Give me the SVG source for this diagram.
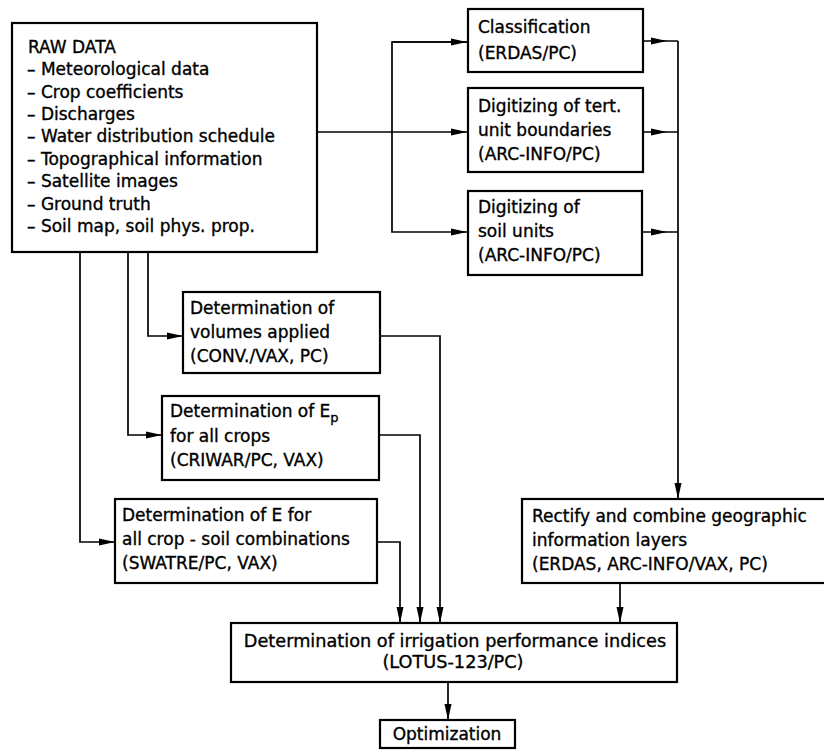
<svg xmlns="http://www.w3.org/2000/svg" width="824" height="750" viewBox="0 0 824 750">
<style>
  .box { fill: #fff; stroke: #000; stroke-width: 2.2; }
  .t { font-family: "DejaVu Sans", "Liberation Sans", sans-serif; font-size: 17px; fill: #000; stroke: #000; stroke-width: 0.35; }
  .c { text-anchor: middle; }
  .big { font-size: 17.7px; }
  .ln { fill: none; stroke: #000; stroke-width: 1.7; }
</style>
<defs>
  <marker id="ah" viewBox="0 0 16 9" refX="16" refY="4.5" markerWidth="16" markerHeight="9" markerUnits="userSpaceOnUse" orient="auto">
    <path d="M0,1 L16,4.5 L0,8 Z" fill="#000"/>
  </marker>
</defs>
<rect width="824" height="750" fill="#fff"/>

<g id="connectors">
  <!-- RAW DATA to right boxes -->
  <path class="ln" d="M317,132 H467" marker-end="url(#ah)"/>
  <path class="ln" d="M467,42 H392 V232 H467" marker-end="url(#ah)"/>
  <path class="ln" d="M392,42 H467" marker-end="url(#ah)"/>
  <!-- RAW DATA down to left boxes -->
  <path class="ln" d="M148,252 V336 H183" marker-end="url(#ah)"/>
  <path class="ln" d="M128,252 V435 H162" marker-end="url(#ah)"/>
  <path class="ln" d="M80,252 V542 H115" marker-end="url(#ah)"/>
  <!-- left boxes to irrigation -->
  <path class="ln" d="M380,336 H440 V623" marker-end="url(#ah)"/>
  <path class="ln" d="M379,435 H420 V623" marker-end="url(#ah)"/>
  <path class="ln" d="M377,542 H400 V623" marker-end="url(#ah)"/>
  <!-- right boxes to vertical collector -->
  <path class="ln" d="M643,41 H667 H678" marker-mid="url(#ah)"/>
  <path class="ln" d="M643,132 H667 H678" marker-mid="url(#ah)"/>
  <path class="ln" d="M642,232 H667 H678" marker-mid="url(#ah)"/>
  <path class="ln" d="M678,41 V499" marker-end="url(#ah)"/>
  <!-- rectify to irrigation -->
  <path class="ln" d="M620,583 V623" marker-end="url(#ah)"/>
  <!-- irrigation to optimization -->
  <path class="ln" d="M448,682 V720" marker-end="url(#ah)"/>
</g>

<g id="raw-data">
  <rect class="box" x="12" y="23" width="305" height="229"/>
  <text class="t" x="28" y="53">RAW DATA</text>
  <text class="t" x="27" y="75">– Meteorological data</text>
  <text class="t" x="27" y="97.5">– Crop coefficients</text>
  <text class="t" x="27" y="120">– Discharges</text>
  <text class="t" x="27" y="142">– Water distribution schedule</text>
  <text class="t" x="27" y="164.5">– Topographical information</text>
  <text class="t" x="27" y="187">– Satellite images</text>
  <text class="t" x="27" y="209.5">– Ground truth</text>
  <text class="t" x="27" y="232">– Soil map, soil phys. prop.</text>
</g>

<g id="classification">
  <rect class="box" x="468" y="9" width="175" height="63"/>
  <text class="t" x="478" y="33">Classification</text>
  <text class="t" x="478" y="59">(ERDAS/PC)</text>
</g>

<g id="digitizing-tert">
  <rect class="box" x="468" y="88" width="175" height="84"/>
  <text class="t" x="478" y="112">Digitizing of tert.</text>
  <text class="t" x="478" y="136">unit boundaries</text>
  <text class="t" x="478" y="160">(ARC-INFO/PC)</text>
</g>

<g id="digitizing-soil">
  <rect class="box" x="468" y="191" width="174" height="84"/>
  <text class="t" x="478" y="213">Digitizing of</text>
  <text class="t" x="478" y="237">soil units</text>
  <text class="t" x="478" y="261">(ARC-INFO/PC)</text>
</g>

<g id="volumes">
  <rect class="box" x="183" y="292" width="197" height="81"/>
  <text class="t" x="190" y="314">Determination of</text>
  <text class="t" x="190" y="338">volumes applied</text>
  <text class="t" x="190" y="362">(CONV./VAX, PC)</text>
</g>

<g id="ep">
  <rect class="box" x="162" y="396" width="217" height="84"/>
  <text class="t" x="170" y="417">Determination of E<tspan dy="5" font-size="13">p</tspan></text>
  <text class="t" x="170" y="442">for all crops</text>
  <text class="t" x="170" y="466">(CRIWAR/PC, VAX)</text>
</g>

<g id="e-soil">
  <rect class="box" x="115" y="499" width="262" height="84"/>
  <text class="t" x="122" y="521">Determination of E for</text>
  <text class="t" x="122" y="545">all crop - soil combinations</text>
  <text class="t" x="122" y="569">(SWATRE/PC, VAX)</text>
</g>

<g id="rectify">
  <rect class="box" x="522" y="499" width="310" height="84"/>
  <text class="t" x="532" y="522">Rectify and combine geographic</text>
  <text class="t" x="532" y="546">information layers</text>
  <text class="t" x="532" y="570">(ERDAS, ARC-INFO/VAX, PC)</text>
</g>

<g id="irrigation">
  <rect class="box" x="231" y="623" width="446" height="59"/>
  <text class="t c big" x="455" y="647">Determination of irrigation performance indices</text>
  <text class="t c big" x="453" y="668">(LOTUS-123/PC)</text>
</g>

<g id="optimization">
  <rect class="box" x="380" y="720" width="135" height="28"/>
  <text class="t c" x="447" y="740">Optimization</text>
</g>
</svg>
